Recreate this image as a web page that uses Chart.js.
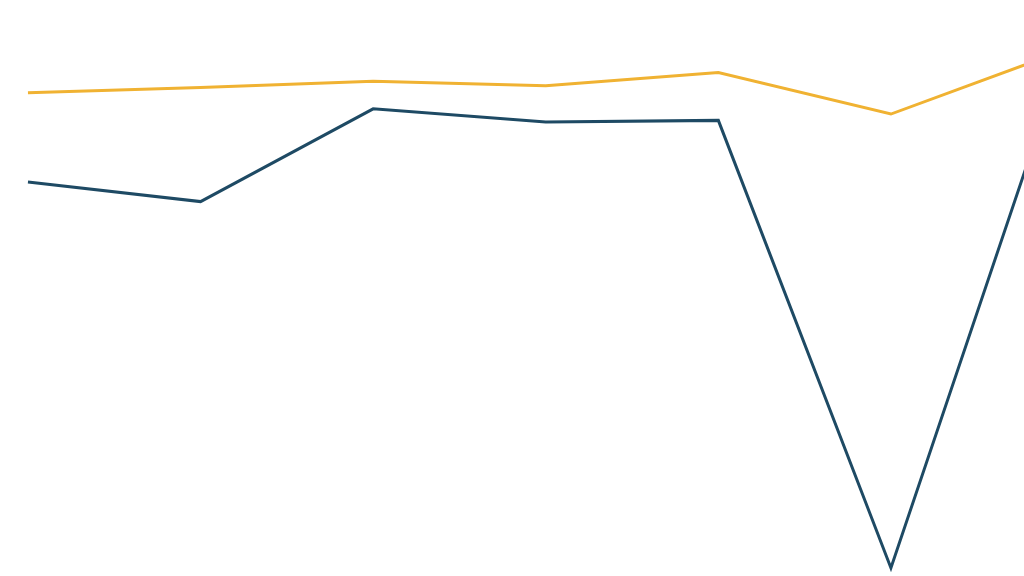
<!DOCTYPE html>
<html>
<head>
<meta charset="utf-8">
<script src="https://cdn.jsdelivr.net/npm/chart.js@4"></script>
<style>
  html, body { margin: 0; padding: 0; background: #fff; }
  #chart { display: block; }
</style>
</head>
<body>
<canvas id="chart" width="1024" height="576"></canvas>
<script>
// periods along the x axis (the last one runs off the right edge)
const periods = [0, 1, 2, 3, 4, 5, 6];
const goldValues = [83.9, 84.8, 85.9, 85.1, 87.4, 80.2, 91.2];
const blueValues = [68.4, 65.0, 81.1, 78.8, 79.1, 1.4, 90.2];

const toPoints = (vals) => vals.map((v, i) => ({ x: periods[i], y: v }));

const ctx = document.getElementById("chart").getContext("2d");
new Chart(ctx, {
  type: 'line',
  data: {
    datasets: [
      {
        data: toPoints(goldValues),
        borderColor: '#F0B232',
        borderWidth: 3,
        pointRadius: 0,
        tension: 0,
        fill: false
      },
      {
        data: toPoints(blueValues),
        borderColor: '#1E4A64',
        borderWidth: 3,
        pointRadius: 0,
        tension: 0,
        fill: false
      }
    ]
  },
  options: {
    responsive: false,
    animation: false,
    layout: { padding: 0 },
    plugins: {
      legend: { display: false },
      tooltip: { enabled: false }
    },
    scales: {
      x: { type: 'linear', display: false, min: -0.162, max: 5.771 },
      y: { display: false, min: 0, max: 100 }
    }
  }
});
</script>
</body>
</html>
